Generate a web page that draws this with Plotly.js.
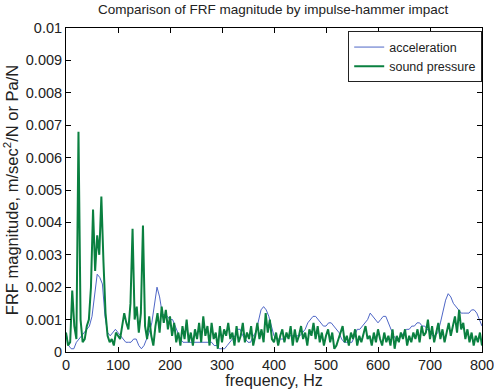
<!DOCTYPE html>
<html>
<head>
<meta charset="utf-8">
<script src="https://cdn.plot.ly/plotly-3.0.1.min.js"></script>
<style>html,body{margin:0;padding:0;background:#fff;}#chart{width:494px;height:389px;}</style>
</head>
<body>
<div id="chart"></div>
<script>
// acceleration FRF, sampled every 5 Hz from 0 to 800 Hz
const accelFreq = [0,5,10,15,20,25,30,35,40,45,50,55,60,65,70,75,80,85,90,95,100,105,110,115,120,125,130,135,140,145,150,155,160,165,170,175,180,185,190,195,200,205,210,215,220,225,230,235,240,245,250,255,260,265,270,275,280,285,290,295,300,305,310,315,320,325,330,335,340,345,350,355,360,365,370,375,380,385,390,395,400,405,410,415,420,425,430,435,440,445,450,455,460,465,470,475,480,485,490,495,500,505,510,515,520,525,530,535,540,545,550,555,560,565,570,575,580,585,590,595,600,605,610,615,620,625,630,635,640,645,650,655,660,665,670,675,680,685,690,695,700,705,710,715,720,725,730,735,740,745,750,755,760,765,770,775,780,785,790,795,800];
const accelMag = [
0.0006,0.0002,0.0001,0.0001,0.0003,0.0004,0.0005,0.0006,0.0007,0.0008,
0.0011,0.0018,0.0024,0.0023,0.0021,0.0011,0.0006,0.0005,0.0006,0.0007,
0.0006,0.0005,0.0004,0.0003,0.0003,0.0003,0.0004,0.0004,0.0002,0.0001,
0.0002,0.0004,0.0006,0.0009,0.0014,0.0020,0.0017,0.0012,0.0011,0.0011,
0.0010,0.0010,0.0008,0.0006,0.0004,0.0003,0.0003,0.0003,0.0003,0.0003,
0.0003,0.0003,0.0003,0.0003,0.0003,0.0003,0.0003,0.0002,0.0002,0.0001,
0.0001,0.0001,0.0002,0.0003,0.0004,0.0005,0.0007,0.0007,0.0005,0.0004,
0.0003,0.0003,0.0005,0.0006,0.0010,0.0013,0.0014,0.0013,0.0011,0.0008,
0.0005,0.0004,0.0004,0.0004,0.0004,0.0005,0.0005,0.0005,0.0005,0.0005,
0.0005,0.0006,0.0007,0.0009,0.0010,0.0011,0.0011,0.0010,0.0009,0.0008,
0.0008,0.0009,0.0009,0.0008,0.0007,0.0006,0.0004,0.0003,0.0003,0.0003,
0.0003,0.0005,0.0007,0.0007,0.0008,0.0009,0.0010,0.0012,0.0011,0.0010,
0.0009,0.0010,0.0011,0.0011,0.0009,0.0007,0.0005,0.0004,0.0004,0.0005,
0.0006,0.0007,0.0007,0.0008,0.0008,0.0009,0.0009,0.0008,0.0008,0.0007,
0.0006,0.0005,0.0005,0.0006,0.0009,0.0013,0.0016,0.0018,0.0017,0.0015,
0.0014,0.0013,0.0012,0.0012,0.0012,0.0012,0.0013,0.0013,0.0012,0.0010,
0.0008];

// sound pressure FRF, sampled every 4 Hz from 0 to 800 Hz
const soundFreq = [0,4,8,12,16,20,24,28,32,36,40,44,48,52,56,60,64,68,72,76,80,84,88,92,96,100,104,108,112,116,120,124,128,132,136,140,144,148,152,156,160,164,168,172,176,180,184,188,192,196,200,204,208,212,216,220,224,228,232,236,240,244,248,252,256,260,264,268,272,276,280,284,288,292,296,300,304,308,312,316,320,324,328,332,336,340,344,348,352,356,360,364,368,372,376,380,384,388,392,396,400,404,408,412,416,420,424,428,432,436,440,444,448,452,456,460,464,468,472,476,480,484,488,492,496,500,504,508,512,516,520,524,528,532,536,540,544,548,552,556,560,564,568,572,576,580,584,588,592,596,600,604,608,612,616,620,624,628,632,636,640,644,648,652,656,660,664,668,672,676,680,684,688,692,696,700,704,708,712,716,720,724,728,732,736,740,744,748,752,756,760,764,768,772,776,780,784,788,792,796,800];
const soundMag = [
0.0006,0.0002,0.0003,0.0019,0.0008,0.0004,0.0068,0.0010,0.0003,0.0004,
0.0008,0.0010,0.0020,0.0044,0.0025,0.0036,0.0030,0.0048,0.0028,0.0012,
0.0005,0.0003,0.0004,0.0002,0.0006,0.0005,0.0004,0.0008,0.0012,0.0009,
0.0007,0.0015,0.0038,0.0010,0.0014,0.0006,0.0012,0.0039,0.0008,0.0004,
0.0011,0.0005,0.0002,0.0008,0.0012,0.0006,0.0014,0.0009,0.0013,0.0007,
0.0011,0.0005,0.0009,0.0003,0.0006,0.0002,0.0008,0.0004,0.0010,0.0003,
0.0006,0.0002,0.0007,0.0004,0.0009,0.0003,0.0011,0.0005,0.0008,0.0002,
0.0009,0.0004,0.0006,0.0001,0.0008,0.0003,0.0007,0.0005,0.0009,0.0004,
0.0006,0.0002,0.0008,0.0003,0.0005,0.0009,0.0003,0.0006,0.0004,0.0008,
0.0002,0.0005,0.0009,0.0004,0.0007,0.0003,0.0012,0.0006,0.0010,0.0004,
0.0003,0.0006,0.0002,0.0005,0.0007,0.0003,0.0006,0.0004,0.0008,0.0002,
0.0007,0.0003,0.0005,0.0008,0.0004,0.0006,0.0002,0.0007,0.0005,0.0009,
0.0004,0.0008,0.0003,0.0006,0.0002,0.0005,0.0007,0.0003,0.0006,0.0001,
0.0002,0.0004,0.0006,0.0008,0.0003,0.0005,0.0002,0.0006,0.0004,0.0007,
0.0002,0.0005,0.0003,0.0006,0.0008,0.0004,0.0005,0.0002,0.0006,0.0003,
0.0007,0.0004,0.0002,0.0006,0.0003,0.0005,0.0002,0.0007,0.0001,0.0005,
0.0003,0.0006,0.0004,0.0007,0.0002,0.0005,0.0003,0.0006,0.0004,0.0007,
0.0003,0.0008,0.0005,0.0006,0.0010,0.0004,0.0008,0.0003,0.0006,0.0009,
0.0004,0.0007,0.0003,0.0006,0.0009,0.0005,0.0008,0.0011,0.0006,0.0013,
0.0007,0.0009,0.0004,0.0007,0.0003,0.0006,0.0002,0.0005,0.0003,0.0006,
0.0002];

const seriesNames = ['acceleration', 'sound pressure'];
const xTicks = [0,100,200,300,400,500,600,700,800];
const yTicks = [0,0.001,0.002,0.003,0.004,0.005,0.006,0.007,0.008,0.009,0.01];
const yTickText = ['0','0.001','0.002','0.003','0.004','0.005','0.006','0.007','0.008','0.009','0.01'];

const font = 'Liberation Sans, Arial, sans-serif';

const traces = [
  {x: accelFreq, y: accelMag, name: seriesNames[0], type: 'scatter', mode: 'lines',
   line: {color: '#3a55c0', width: 0.9}},
  {x: soundFreq, y: soundMag, name: seriesNames[1], type: 'scatter', mode: 'lines',
   line: {color: '#0a8040', width: 2}}
];

const axisCommon = {
  showgrid: false, zeroline: false, showline: true, linecolor: '#000', linewidth: 1,
  mirror: 'allticks', ticks: 'inside', ticklen: 5, tickcolor: '#000', tickwidth: 1,
  ticklabeloverflow: 'allow',
  tickfont: {family: font, size: 14.5, color: '#222'}
};

const layout = {
  width: 494, height: 389,
  margin: {l: 66, r: 12, t: 28, b: 37},
  paper_bgcolor: '#fff', plot_bgcolor: '#fff',
  title: {text: 'Comparison of FRF magnitude by impulse-hammer impact',
          font: {family: font, size: 13.5, color: '#222'}, x: 0.553, xanchor: 'center', y: 0.988, yanchor: 'top'},
  xaxis: Object.assign({}, axisCommon, {
    range: [0, 800], tickvals: xTicks, ticktext: xTicks.map(String),
    title: {text: 'frequency, Hz', font: {family: font, size: 16, color: '#222'}, standoff: 0}
  }),
  yaxis: Object.assign({}, axisCommon, {
    range: [0, 0.01], tickvals: yTicks, ticktext: yTickText,
    title: {text: 'FRF magnitude, m/sec<sup>2</sup>/N or Pa/N', font: {family: font, size: 16.5, color: '#222'}, standoff: 3}
  }),
  showlegend: true,
  legend: {x: 1, xanchor: 'right', y: 0.99, yanchor: 'top', bgcolor: '#fff',
           bordercolor: '#222', borderwidth: 1.2, font: {family: font, size: 12.5, color: '#222'},
           tracegroupgap: 0, itemwidth: 30}
};

Plotly.newPlot('chart', traces, layout, {displayModeBar: false, staticPlot: true});
</script>
</body>
</html>
